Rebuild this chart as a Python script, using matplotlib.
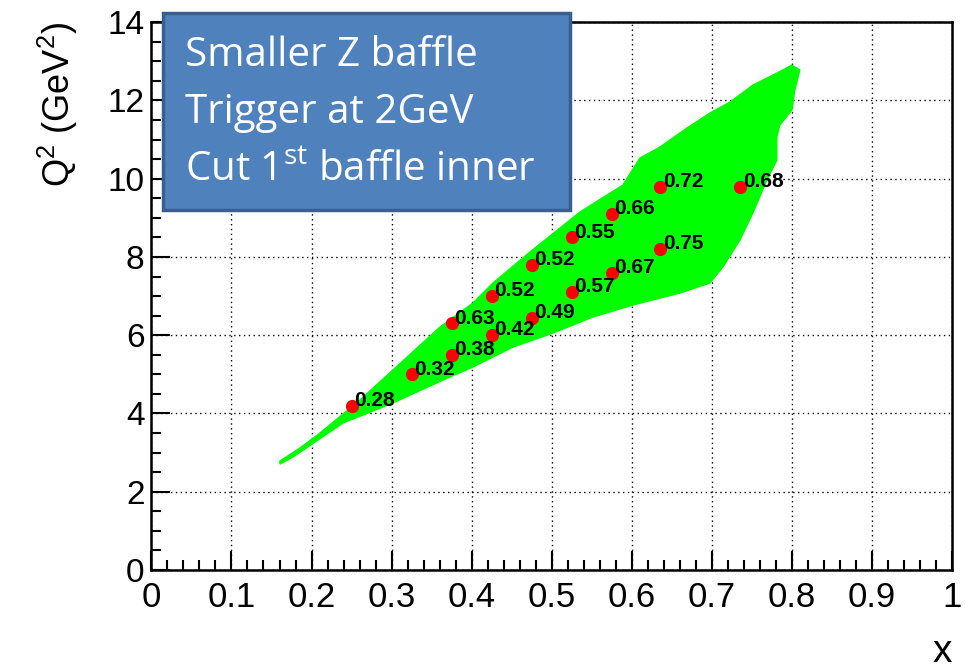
import matplotlib
matplotlib.use('Agg')
import matplotlib.pyplot as plt
from matplotlib.patches import Rectangle, Polygon
from matplotlib.ticker import MultipleLocator

# outline of the accepted-event cloud (x, Q2)
cloud_x = [0.1605, 0.1855, 0.2105, 0.2604, 0.3016, 0.3603, 0.4015, 0.4265, 0.4727, 0.5351,
           0.5888, 0.6100, 0.6350, 0.6687, 0.6974, 0.7224, 0.7511, 0.7810, 0.7998, 0.8097,
           0.8035, 0.7998, 0.7848, 0.7810, 0.7810, 0.7686, 0.7511, 0.7349, 0.7136, 0.6974,
           0.6599, 0.6012, 0.5513, 0.5014, 0.4515, 0.4015, 0.3641, 0.3016, 0.2392, 0.1768, 0.1605]
cloud_q2 = [2.785, 3.117, 3.500, 4.343, 5.110, 6.208, 6.822, 7.333, 8.125, 9.147,
            9.837, 10.526, 10.807, 11.293, 11.676, 11.957, 12.391, 12.698, 12.902, 12.775,
            12.264, 11.753, 11.369, 11.063, 10.475, 9.964, 9.121, 8.431, 7.741, 7.333,
            7.077, 6.771, 6.464, 6.055, 5.697, 5.187, 4.854, 4.267, 3.756, 2.887, 2.708]

# bin centres with their values
pt_x = [0.25, 0.325, 0.375, 0.375, 0.425, 0.425, 0.475, 0.475, 0.525, 0.525,
        0.575, 0.575, 0.635, 0.635, 0.735]
pt_q2 = [4.2, 5.0, 5.5, 6.3, 6.0, 7.0, 6.45, 7.8, 7.1, 8.5, 7.6, 9.1, 8.2, 9.8, 9.8]
pt_val = ['0.28', '0.32', '0.38', '0.63', '0.42', '0.52', '0.49', '0.52', '0.57', '0.55',
          '0.67', '0.66', '0.75', '0.72', '0.68']

box_lines = ['Smaller Z baffle', 'Trigger at 2GeV', r'Cut 1$^{\mathregular{st}}$ baffle inner']

plt.rcParams['font.family'] = ['Liberation Sans', 'DejaVu Sans']

fig = plt.figure(figsize=(9.66, 6.71), dpi=100)
ax = fig.add_axes([0.1567, 0.1505, 0.829, 0.8165])

ax.add_patch(Polygon(list(zip(cloud_x, cloud_q2)), closed=True, facecolor='#00ff00',
                     edgecolor='#00ff00', linewidth=1, zorder=2))
ax.plot(pt_x, pt_q2, 'o', color='red', markersize=8.5, zorder=4)
for x, y, s in zip(pt_x, pt_q2, pt_val):
    ax.annotate(s, (x, y), xytext=(2, -3), textcoords='offset points',
                fontsize=15, fontweight='bold', ha='left', va='bottom', zorder=5)

ax.set_xlim(0, 1)
ax.set_ylim(0, 14)
ax.xaxis.set_minor_locator(MultipleLocator(0.02))
ax.yaxis.set_major_locator(MultipleLocator(2))
ax.yaxis.set_minor_locator(MultipleLocator(0.5))
ax.set_xticks([i / 10 for i in range(11)])
ax.set_xticklabels(['0', '0.1', '0.2', '0.3', '0.4', '0.5', '0.6', '0.7', '0.8', '0.9', '1'])
ax.tick_params(which='both', direction='in', top=False, right=False, width=1.5)
ax.tick_params(which='major', length=14)
ax.tick_params(which='minor', length=7)
ax.tick_params(axis='x', which='major', labelsize=25, pad=8)
ax.tick_params(axis='y', which='major', labelsize=24, pad=5)
ax.grid(True, which='major', color='black', linestyle=(0, (1, 2.5)), linewidth=1)
ax.set_axisbelow(True)
for sp in ax.spines.values():
    sp.set_linewidth(1.8)

ax.set_xlabel('x', fontsize=28, loc='right', labelpad=14)
ax.set_ylabel(r'Q$^{\mathregular{2}}$ (GeV$^{\mathregular{2}}$)', fontsize=26, loc='top', labelpad=20)

# annotation box
fig.patches.append(Rectangle((0.1687, 0.687), 0.4213, 0.2936, transform=fig.transFigure,
                             facecolor='#4f81bd', edgecolor='#3a5f8e', linewidth=2.5, zorder=10))
for i, line in enumerate(box_lines):
    fig.text(0.191, 0.917 - i * 0.0857, line, fontsize=29, color='white', family='Open Sans',
             va='center', ha='left', zorder=11)

fig.savefig('out.png', dpi=100)
